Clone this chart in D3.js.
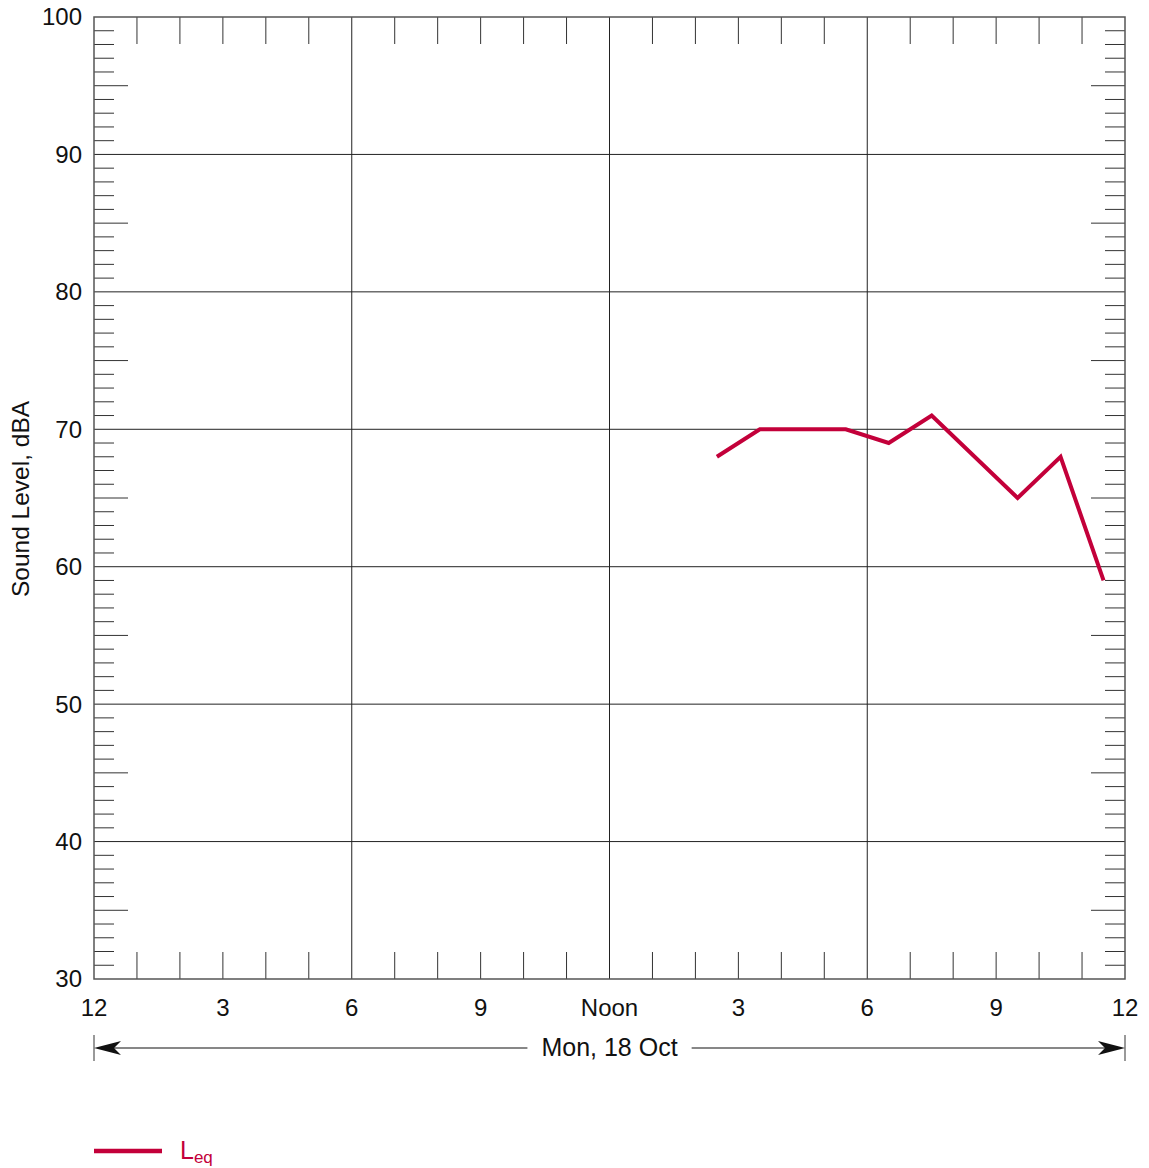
<!DOCTYPE html>
<html>
<head>
<meta charset="utf-8">
<script src="https://cdn.jsdelivr.net/npm/d3@7"></script>
<style>
  html, body { margin: 0; padding: 0; background: #fff; }
  svg { display: block; font-family: "Liberation Sans", Arial, sans-serif; }
</style>
</head>
<body>
<svg id="chart" width="1149" height="1168"></svg>
<script>
// Hourly Leq readings, Mon 18 Oct (hour of day, dBA)
const hours = [14.5, 15.5, 17.5, 18.5, 19.5, 21.5, 22.5, 23.5];
const leq = [68, 70, 70, 69, 71, 65, 68, 59];

const xTickHours = [0, 3, 6, 9, 12, 15, 18, 21, 24];
const xTickLabels = ["12", "3", "6", "9", "Noon", "3", "6", "9", "12"];
const yTickValues = [30, 40, 50, 60, 70, 80, 90, 100];
const dateLabel = "Mon, 18 Oct";
const yTitle = "Sound Level, dBA";
const seriesColor = "#c3003a";

const svg = d3.select("#chart");
const plotL = 94, plotR = 1125, plotT = 17, plotB = 979;

const x = d3.scaleLinear().domain([0, 24]).range([plotL, plotR]);
const y = d3.scaleLinear().domain([30, 100]).range([plotB, plotT]);

const grid = svg.append("g");

// Horizontal gridlines every 10 dB
grid.selectAll("line.hg").data(yTickValues.slice(1, -1)).join("line")
  .attr("x1", plotL).attr("x2", plotR)
  .attr("y1", d => y(d)).attr("y2", d => y(d))
  .attr("stroke", "#222").attr("stroke-width", 1);

// Vertical gridlines every 6 hours
grid.selectAll("line.vg").data([6, 12, 18]).join("line")
  .attr("y1", plotT).attr("y2", plotB)
  .attr("x1", d => x(d)).attr("x2", d => x(d))
  .attr("stroke", "#222").attr("stroke-width", 1);

// Inward minor ticks on left and right (every 1 dB, longer at 5s)
const dbTicks = d3.range(31, 100).filter(d => d % 10 !== 0);
const tickLen = d => (d % 5 === 0 ? 34 : 20);
grid.selectAll("line.lt").data(dbTicks).join("line")
  .attr("x1", plotL).attr("x2", d => plotL + tickLen(d))
  .attr("y1", d => y(d)).attr("y2", d => y(d))
  .attr("stroke", "#333").attr("stroke-width", 1);
grid.selectAll("line.rt").data(dbTicks).join("line")
  .attr("x1", plotR).attr("x2", d => plotR - tickLen(d))
  .attr("y1", d => y(d)).attr("y2", d => y(d))
  .attr("stroke", "#333").attr("stroke-width", 1);

// Hourly ticks on top and bottom
const hrTicks = d3.range(1, 24).filter(h => h % 6 !== 0);
grid.selectAll("line.bt").data(hrTicks).join("line")
  .attr("x1", d => x(d)).attr("x2", d => x(d))
  .attr("y1", plotB).attr("y2", plotB - 27)
  .attr("stroke", "#333").attr("stroke-width", 1);
grid.selectAll("line.tt").data(hrTicks).join("line")
  .attr("x1", d => x(d)).attr("x2", d => x(d))
  .attr("y1", plotT).attr("y2", plotT + 27)
  .attr("stroke", "#333").attr("stroke-width", 1);

// Frame
svg.append("rect")
  .attr("x", plotL).attr("y", plotT)
  .attr("width", plotR - plotL).attr("height", plotB - plotT)
  .attr("fill", "none").attr("stroke", "#555").attr("stroke-width", 1.5);

// Y axis labels
svg.selectAll("text.yl").data(yTickValues).join("text")
  .attr("x", 82).attr("y", d => y(d))
  .attr("dy", "0.35em").attr("text-anchor", "end")
  .attr("font-size", 24).attr("fill", "#111")
  .text(d => d);

// X axis labels
svg.selectAll("text.xl").data(xTickHours).join("text")
  .attr("x", d => x(d)).attr("y", 1016)
  .attr("text-anchor", "middle")
  .attr("font-size", 24).attr("fill", "#111")
  .text((d, i) => xTickLabels[i]);

// Y title
svg.append("text")
  .attr("transform", `translate(29,${(plotT + plotB) / 2 + 1}) rotate(-90)`)
  .attr("text-anchor", "middle")
  .attr("font-size", 24.5).attr("fill", "#111")
  .text(yTitle);

// Date span with arrows
const ay = 1048;
const mid = x(12);
const dateText = svg.append("text")
  .attr("x", mid).attr("y", ay + 8)
  .attr("text-anchor", "middle")
  .attr("font-size", 25).attr("fill", "#111")
  .text(dateLabel);
const bb = dateText.node().getBBox();
const gap = 14;
svg.append("line").attr("x1", x(0) + 4).attr("x2", bb.x - gap)
  .attr("y1", ay).attr("y2", ay).attr("stroke", "#111").attr("stroke-width", 1.2);
svg.append("line").attr("x1", bb.x + bb.width + gap).attr("x2", x(24) - 4)
  .attr("y1", ay).attr("y2", ay).attr("stroke", "#111").attr("stroke-width", 1.2);
[x(0), x(24)].forEach(px => {
  svg.append("line").attr("x1", px).attr("x2", px)
    .attr("y1", ay - 13).attr("y2", ay + 13)
    .attr("stroke", "#555").attr("stroke-width", 1.2);
});
svg.append("path")
  .attr("d", `M${x(0)},${ay} L${x(0) + 27},${ay - 7} L${x(0) + 20},${ay} L${x(0) + 27},${ay + 7} Z`)
  .attr("fill", "#111");
svg.append("path")
  .attr("d", `M${x(24)},${ay} L${x(24) - 27},${ay - 7} L${x(24) - 20},${ay} L${x(24) - 27},${ay + 7} Z`)
  .attr("fill", "#111");

// Leq series
const line = d3.line().x((d, i) => x(hours[i])).y(d => y(d));
svg.append("path")
  .datum(leq)
  .attr("d", line)
  .attr("fill", "none")
  .attr("stroke", seriesColor)
  .attr("stroke-width", 4)
  .attr("stroke-linejoin", "miter");

// Legend
svg.append("line")
  .attr("x1", 94).attr("x2", 162).attr("y1", 1151).attr("y2", 1151)
  .attr("stroke", seriesColor).attr("stroke-width", 4.5);
const lg = svg.append("text")
  .attr("x", 180).attr("y", 1159)
  .attr("font-size", 25).attr("fill", seriesColor);
lg.append("tspan").text("L");
lg.append("tspan").attr("font-size", 17).attr("dy", 4).text("eq");
</script>
</body>
</html>
